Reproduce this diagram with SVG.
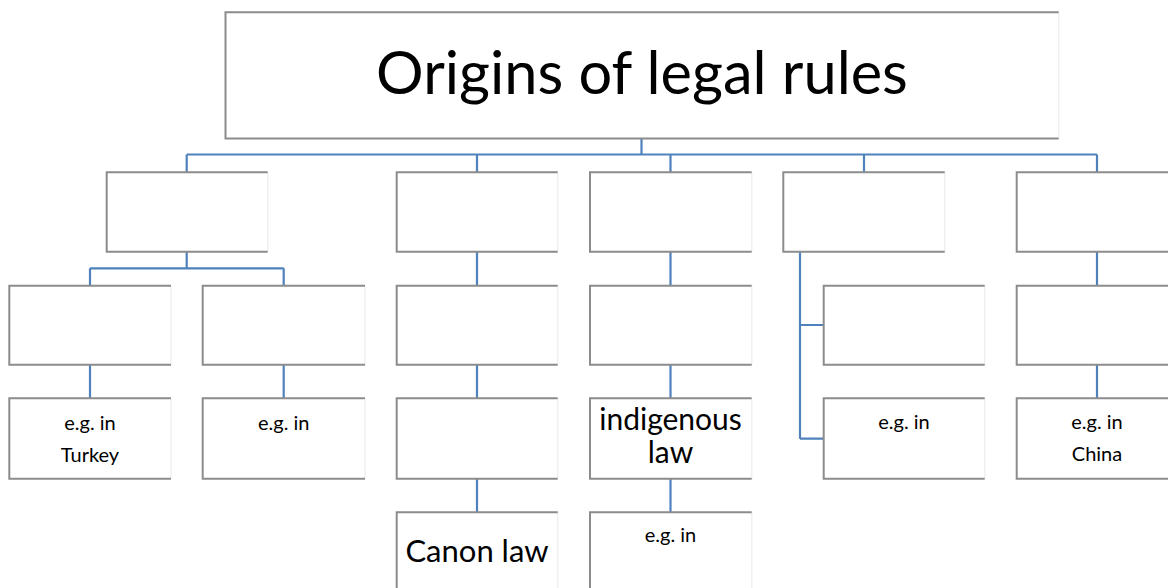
<svg xmlns="http://www.w3.org/2000/svg" width="1168" height="588" viewBox="0 0 1168 588">
<style>
.bx{fill:#ffffff;stroke:none}
.ed{fill:none;stroke:#8c8c8c;stroke-width:2}
.rt{fill:none;stroke:#f0f0f0;stroke-width:1.5}
.cn{fill:none;stroke:#4f81bd;stroke-width:2.2}
text{font-family:Lato,"Open Sans",sans-serif;fill:#000;text-anchor:middle}
.t1{font-size:59.5px}
.t2{font-size:30px}
.t4{font-size:31px}
.t3{font-size:20px}
</style>
<rect width="1168" height="588" fill="#ffffff"/>
<g id="connectors">
<path class="cn" d="M641.5 138.5V154.5M186.7 154.5H1097M186.7 154.5V172.3M477 154.5V172.3M670.5 154.5V172.3M864 154.5V172.3M1097 154.5V172.3"/>
<path class="cn" d="M186.7 251.7V268.3M90 268.3H283.7M90 268.3V285.7M283.7 268.3V285.7M90 364.7V398.3M283.7 364.7V398.3"/>
<path class="cn" d="M477 251.7V285.7M477 364.7V398.3M477 478.7V512.3"/>
<path class="cn" d="M670.5 251.7V285.7M670.5 364.7V398.3M670.5 478.7V512.3"/>
<path class="cn" d="M800 251.7V438.7M800 325H823.7M800 438.7H823.7"/>
<path class="cn" d="M1097 251.7V285.7M1097 364.7V398.3"/>
</g>
<g id="root">
<rect class="bx" x="225.5" y="12.3" width="833.2" height="126.2"/>
<path class="rt" d="M1058.7 12.3V138.5"/>
<path class="ed" d="M1058.7 12.3H225.5V138.5H1058.7"/>
<text class="t1" x="642" y="94">Origins of legal rules</text>
</g>
<g id="n1">
<rect class="bx" x="106.7" y="172.3" width="161" height="79.4"/>
<path class="rt" d="M267.7 172.3V251.7"/>
<path class="ed" d="M267.7 172.3H106.7V251.7H267.7"/>
</g>
<g id="n2">
<rect class="bx" x="396.7" y="172.3" width="161" height="79.4"/>
<path class="rt" d="M557.7 172.3V251.7"/>
<path class="ed" d="M557.7 172.3H396.7V251.7H557.7"/>
</g>
<g id="n3">
<rect class="bx" x="590" y="172.3" width="161.7" height="79.4"/>
<path class="rt" d="M751.7 172.3V251.7"/>
<path class="ed" d="M751.7 172.3H590V251.7H751.7"/>
</g>
<g id="n4">
<rect class="bx" x="783.3" y="172.3" width="161.4" height="79.4"/>
<path class="rt" d="M944.7 172.3V251.7"/>
<path class="ed" d="M944.7 172.3H783.3V251.7H944.7"/>
</g>
<g id="n5">
<rect class="bx" x="1016.7" y="172.3" width="161" height="79.4"/>
<path class="ed" d="M1177.7 172.3H1016.7V251.7H1177.7"/>
</g>
<g id="n1a">
<rect class="bx" x="9.3" y="285.7" width="161.7" height="79"/>
<path class="rt" d="M171 285.7V364.7"/>
<path class="ed" d="M171 285.7H9.3V364.7H171"/>
</g>
<g id="n1b">
<rect class="bx" x="202.7" y="285.7" width="162.3" height="79"/>
<path class="rt" d="M365 285.7V364.7"/>
<path class="ed" d="M365 285.7H202.7V364.7H365"/>
</g>
<g id="n2a">
<rect class="bx" x="396.7" y="285.7" width="161" height="79"/>
<path class="rt" d="M557.7 285.7V364.7"/>
<path class="ed" d="M557.7 285.7H396.7V364.7H557.7"/>
</g>
<g id="n3a">
<rect class="bx" x="590" y="285.7" width="161.7" height="79"/>
<path class="rt" d="M751.7 285.7V364.7"/>
<path class="ed" d="M751.7 285.7H590V364.7H751.7"/>
</g>
<g id="n4a">
<rect class="bx" x="823.7" y="285.7" width="161" height="79"/>
<path class="rt" d="M984.7 285.7V364.7"/>
<path class="ed" d="M984.7 285.7H823.7V364.7H984.7"/>
</g>
<g id="n5a">
<rect class="bx" x="1016.7" y="285.7" width="161" height="79"/>
<path class="ed" d="M1177.7 285.7H1016.7V364.7H1177.7"/>
</g>
<g id="n1a1">
<rect class="bx" x="9.3" y="398.3" width="161.7" height="80.4"/>
<path class="rt" d="M171 398.3V478.7"/>
<path class="ed" d="M171 398.3H9.3V478.7H171"/>
<text class="t3" x="90" y="430">e.g. in</text>
<text class="t3" x="90" y="462">Turkey</text>
</g>
<g id="n1b1">
<rect class="bx" x="202.7" y="398.3" width="162.3" height="80.4"/>
<path class="rt" d="M365 398.3V478.7"/>
<path class="ed" d="M365 398.3H202.7V478.7H365"/>
<text class="t3" x="283.7" y="430">e.g. in</text>
</g>
<g id="n2b">
<rect class="bx" x="396.7" y="398.3" width="161" height="80.4"/>
<path class="rt" d="M557.7 398.3V478.7"/>
<path class="ed" d="M557.7 398.3H396.7V478.7H557.7"/>
</g>
<g id="n3b">
<rect class="bx" x="590" y="398.3" width="161.7" height="80.4"/>
<path class="rt" d="M751.7 398.3V478.7"/>
<path class="ed" d="M751.7 398.3H590V478.7H751.7"/>
<text class="t2" x="670.5" y="429.5">indigenous</text>
<text class="t2" x="670.5" y="463">law</text>
</g>
<g id="n4b">
<rect class="bx" x="823.7" y="398.3" width="161" height="80.4"/>
<path class="rt" d="M984.7 398.3V478.7"/>
<path class="ed" d="M984.7 398.3H823.7V478.7H984.7"/>
<text class="t3" x="904" y="429">e.g. in</text>
</g>
<g id="n5b">
<rect class="bx" x="1016.7" y="398.3" width="161" height="80.4"/>
<path class="ed" d="M1177.7 398.3H1016.7V478.7H1177.7"/>
<text class="t3" x="1097" y="429">e.g. in</text>
<text class="t3" x="1097" y="461">China</text>
</g>
<g id="n2c">
<rect class="bx" x="396.7" y="512.3" width="161" height="90"/>
<path class="rt" d="M557.7 512.3V600"/>
<path class="ed" d="M557.7 512.3H396.7V600"/>
<text class="t4" x="477" y="561.7">Canon law</text>
</g>
<g id="n3c">
<rect class="bx" x="590" y="512.3" width="161.7" height="90"/>
<path class="rt" d="M751.7 512.3V600"/>
<path class="ed" d="M751.7 512.3H590V600"/>
<text class="t3" x="670.5" y="541.5">e.g. in</text>
</g>
</svg>
